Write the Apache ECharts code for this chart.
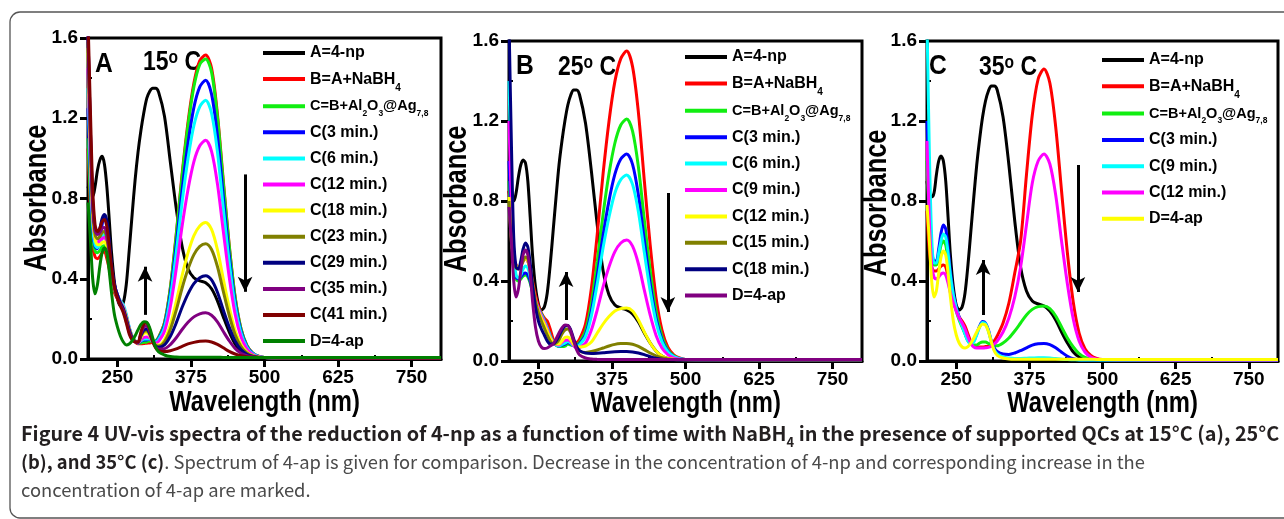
<!DOCTYPE html>
<html><head><meta charset="utf-8">
<script src="https://cdn.jsdelivr.net/npm/echarts@6/dist/echarts.min.js"></script>
<style>html,body{margin:0;padding:0;background:#fff}#c{width:1284px;height:519px}</style>
</head><body><div id="c"></div>
<script>
// Wavelength grid (nm)
const WL = [200,204,208,212,216,220,224,228,232,236,240,245,250,255,260,265,270,275,280,285,290,295,300,305,310,315,320,330,340,350,360,370,380,390,400,410,420,430,440,450,460,470,480,490,500,550,650,800];
const X_TICKS = [250,375,500,625,750];
const X_MINOR = [312.5,437.5,562.5,687.5];
const Y_MINOR = [0.2,0.6,1.0,1.4];

// ---------- Panel A (15 °C) ----------
const a_A   = [0.86,0.82,0.81,0.86,0.94,0.99,1.01,0.97,0.86,0.70,0.53, 0.38,0.30,0.265,0.28,0.37,0.54,0.72,0.89,1.03,1.14,1.23,1.30,1.335,1.35,1.35,1.33, 1.21,0.98,0.75,0.56,0.45,0.405,0.39,0.38,0.35,0.29,0.21,0.135,0.075,0.037,0.018,0.010,0.008,0.007, 0.006,0.005,0.005];
const a_B   = [1.05,0.75,0.56,0.51,0.50,0.51,0.53,0.535,0.50,0.45,0.39, 0.33,0.30,0.27,0.25,0.20,0.14,0.10,0.085,0.076,0.076,0.077,0.079,0.080,0.085,0.090,0.108, 0.181,0.357,0.624,0.924,1.18,1.375,1.487,1.515,1.45,1.22,0.888,0.57,0.312,0.152,0.068,0.030,0.014,0.008, 0.006,0.005,0.005];
const a_C   = [1.10,0.80,0.60,0.54,0.53,0.54,0.56,0.565,0.53,0.46,0.40, 0.34,0.31,0.28,0.255,0.21,0.15,0.105,0.088,0.078,0.080,0.083,0.085,0.090,0.087,0.090,0.107, 0.179,0.353,0.616,0.912,1.164,1.357,1.468,1.495,1.43,1.205,0.876,0.562,0.308,0.151,0.068,0.029,0.013,0.008, 0.006,0.005,0.005];
const a_C3  = [1.25,0.90,0.63,0.56,0.55,0.60,0.67,0.71,0.68,0.58,0.46, 0.37,0.32,0.28,0.26,0.215,0.155,0.11,0.09,0.08,0.088,0.094,0.095,0.098,0.088,0.087,0.102, 0.168,0.328,0.57,0.843,1.076,1.254,1.356,1.39,1.32,1.113,0.81,0.52,0.285,0.14,0.063,0.028,0.013,0.008, 0.006,0.005,0.005];
const a_C6  = [1.35,0.95,0.66,0.57,0.555,0.57,0.60,0.62,0.60,0.52,0.43, 0.36,0.32,0.29,0.27,0.225,0.16,0.115,0.092,0.082,0.091,0.099,0.10,0.10,0.088,0.085,0.097, 0.158,0.306,0.53,0.783,0.999,1.164,1.258,1.29,1.225,1.033,0.752,0.483,0.265,0.13,0.059,0.026,0.012,0.008, 0.006,0.005,0.005];
const a_C12 = [1.45,1.00,0.70,0.60,0.58,0.59,0.60,0.605,0.58,0.51,0.43, 0.36,0.32,0.285,0.26,0.215,0.155,0.112,0.09,0.08,0.0965,0.108,0.11,0.105,0.087,0.08,0.088, 0.138,0.262,0.45,0.663,0.845,0.984,1.063,1.09,1.035,0.873,0.636,0.409,0.225,0.111,0.051,0.023,0.011,0.007, 0.006,0.005,0.005];
const a_C18 = [1.55,1.05,0.72,0.60,0.57,0.57,0.58,0.585,0.56,0.50,0.42, 0.35,0.31,0.28,0.255,0.21,0.15,0.11,0.09,0.082,0.1075,0.1275,0.13,0.1155,0.086,0.07,0.07, 0.0965,0.171,0.286,0.417,0.529,0.615,0.663,0.68,0.646,0.545,0.398,0.257,0.143,0.072,0.035,0.017,0.009,0.007, 0.006,0.005,0.005];
const a_C23 = [1.58,1.10,0.75,0.62,0.60,0.61,0.63,0.635,0.60,0.53,0.44, 0.36,0.315,0.28,0.25,0.205,0.148,0.108,0.088,0.082,0.113,0.137,0.14,0.122,0.087,0.068,0.065, 0.086,0.148,0.244,0.354,0.448,0.52,0.561,0.575,0.546,0.461,0.337,0.218,0.122,0.062,0.03,0.015,0.009,0.007, 0.006,0.005,0.005];
const a_C29 = [1.62,1.15,0.78,0.65,0.63,0.65,0.70,0.72,0.69,0.59,0.47, 0.37,0.32,0.28,0.25,0.20,0.145,0.105,0.088,0.082,0.1185,0.1445,0.15,0.127,0.0875,0.064,0.058, 0.07,0.113,0.18,0.258,0.325,0.376,0.405,0.415,0.394,0.333,0.244,0.159,0.09,0.047,0.024,0.013,0.008,0.007, 0.006,0.005,0.005];
const a_C35 = [1.62,1.15,0.78,0.64,0.62,0.63,0.65,0.655,0.62,0.54,0.44, 0.35,0.305,0.27,0.24,0.19,0.135,0.10,0.086,0.082,0.127,0.16,0.165,0.137,0.089,0.06,0.05, 0.0515,0.072,0.106,0.147,0.183,0.21,0.225,0.23,0.218,0.185,0.137,0.091,0.053,0.029,0.017,0.011,0.008,0.007, 0.006,0.005,0.005];
const a_C41 = [1.70,1.25,0.85,0.67,0.635,0.65,0.685,0.695,0.66,0.57,0.46, 0.36,0.305,0.265,0.23,0.18,0.125,0.095,0.085,0.085,0.135,0.175,0.18,0.145,0.09,0.055,0.042, 0.037,0.041,0.05,0.063,0.075,0.083,0.088,0.09,0.085,0.073,0.056,0.038,0.025,0.016,0.011,0.009,0.008,0.007, 0.006,0.005,0.005];
const a_D   = [0.78,0.60,0.40,0.325,0.37,0.46,0.53,0.555,0.53,0.44,0.33, 0.22,0.16,0.115,0.085,0.07,0.075,0.09,0.115,0.145,0.172,0.186,0.183,0.155,0.105,0.06,0.035, 0.02,0.012,0.01,0.009,0.009,0.009,0.009,0.009,0.009,0.009,0.008,0.008,0.008,0.008,0.008,0.008,0.008,0.008, 0.008,0.008,0.008];

// ---------- Panel B (25 °C) ----------
const b_A   = [0.85,0.80,0.80,0.84,0.92,0.98,1.005,0.99,0.90,0.72,0.53, 0.37,0.285,0.255,0.27,0.34,0.48,0.65,0.82,0.98,1.10,1.20,1.28,1.33,1.355,1.355,1.33, 1.19,0.95,0.68,0.45,0.33,0.28,0.265,0.255,0.235,0.195,0.14,0.09,0.05,0.025,0.013,0.008,0.007,0.006, 0.005,0.005,0.005];
const b_B   = [0.85,0.65,0.52,0.48,0.47,0.48,0.50,0.51,0.50,0.46,0.40, 0.33,0.275,0.24,0.215,0.20,0.16,0.11,0.085,0.078,0.08,0.083,0.097,0.092,0.088,0.091,0.109, 0.184,0.363,0.634,0.939,1.199,1.398,1.512,1.55,1.472,1.241,0.902,0.579,0.317,0.155,0.069,0.031,0.015,0.008, 0.006,0.005,0.005];
const b_C   = [0.90,0.65,0.48,0.41,0.40,0.41,0.425,0.43,0.42,0.39,0.345, 0.30,0.265,0.235,0.205,0.17,0.13,0.097,0.08,0.072,0.072,0.074,0.085,0.08,0.077,0.081,0.094, 0.15,0.288,0.498,0.735,0.937,1.09,1.18,1.21,1.149,0.969,0.705,0.453,0.249,0.123,0.056,0.026,0.012,0.008, 0.006,0.005,0.005];
const b_C3  = [1.00,0.70,0.50,0.42,0.41,0.42,0.435,0.44,0.43,0.40,0.35, 0.30,0.26,0.23,0.20,0.165,0.125,0.095,0.08,0.074,0.08,0.084,0.093,0.086,0.077,0.076,0.086, 0.132,0.249,0.428,0.63,0.802,0.934,1.01,1.035,0.983,0.829,0.604,0.388,0.214,0.106,0.049,0.023,0.011,0.007, 0.006,0.005,0.005];
const b_C6  = [1.40,0.90,0.55,0.43,0.415,0.43,0.46,0.475,0.465,0.42,0.36, 0.30,0.26,0.23,0.20,0.165,0.125,0.095,0.08,0.075,0.083,0.089,0.097,0.089,0.077,0.073,0.081, 0.122,0.226,0.386,0.567,0.72,0.84,0.907,0.93,0.883,0.745,0.543,0.35,0.193,0.096,0.045,0.022,0.011,0.007, 0.006,0.005,0.005];
const b_C9  = [1.20,0.80,0.55,0.47,0.465,0.48,0.50,0.51,0.50,0.45,0.38, 0.31,0.26,0.225,0.195,0.16,0.12,0.095,0.083,0.08,0.094,0.103,0.105,0.097,0.076,0.065,0.067, 0.089,0.155,0.256,0.372,0.471,0.547,0.59,0.605,0.574,0.485,0.354,0.229,0.128,0.065,0.032,0.016,0.009,0.007, 0.006,0.005,0.005];
const b_C12 = [0.82,0.62,0.51,0.475,0.47,0.48,0.50,0.51,0.50,0.45,0.38, 0.30,0.25,0.215,0.185,0.15,0.115,0.095,0.085,0.085,0.10,0.117,0.12,0.105,0.082,0.072,0.07, 0.075,0.095,0.14,0.185,0.222,0.25,0.262,0.265,0.25,0.205,0.145,0.09,0.05,0.025,0.013,0.009,0.007,0.006, 0.006,0.005,0.005];
const b_C15 = [0.80,0.60,0.50,0.465,0.46,0.47,0.50,0.52,0.51,0.46,0.39, 0.30,0.24,0.20,0.165,0.13,0.10,0.085,0.09,0.105,0.135,0.155,0.16,0.14,0.10,0.068,0.05, 0.043,0.048,0.055,0.065,0.075,0.083,0.087,0.088,0.084,0.073,0.057,0.04,0.026,0.016,0.01,0.007,0.006,0.006, 0.005,0.005,0.005];
const b_C18 = [1.70,1.10,0.62,0.47,0.46,0.50,0.56,0.59,0.57,0.49,0.38, 0.27,0.20,0.16,0.13,0.10,0.085,0.085,0.10,0.125,0.155,0.175,0.178,0.155,0.11,0.072,0.052, 0.04,0.038,0.039,0.041,0.044,0.046,0.047,0.047,0.045,0.04,0.032,0.022,0.014,0.009,0.007,0.006,0.005,0.005, 0.005,0.005,0.005];
const b_D   = [0.77,0.60,0.40,0.32,0.36,0.45,0.53,0.555,0.53,0.44,0.30, 0.17,0.10,0.07,0.062,0.065,0.075,0.085,0.11,0.14,0.165,0.18,0.178,0.15,0.10,0.055,0.03, 0.015,0.01,0.008,0.007,0.007,0.007,0.007,0.007,0.007,0.007,0.007,0.007,0.007,0.007,0.007,0.007,0.007,0.007, 0.007,0.007,0.007];

// ---------- Panel C (35 °C) ----------
const c_A   = [0.90,0.83,0.82,0.84,0.93,1.00,1.025,1.00,0.90,0.72,0.53, 0.37,0.28,0.255,0.27,0.34,0.48,0.65,0.82,0.98,1.11,1.22,1.30,1.35,1.375,1.375,1.355, 1.22,0.98,0.70,0.47,0.35,0.30,0.285,0.275,0.25,0.205,0.145,0.09,0.045,0.02,0.01,0.007,0.006,0.006, 0.005,0.005,0.005];
const c_B   = [0.75,0.55,0.47,0.45,0.45,0.46,0.475,0.48,0.47,0.42,0.36, 0.30,0.255,0.22,0.20,0.175,0.135,0.095,0.075,0.07,0.07,0.07,0.072,0.075,0.085,0.10,0.125, 0.19,0.29,0.44,0.60,0.93,1.23,1.41,1.46,1.39,1.17,0.85,0.54,0.295,0.14,0.062,0.028,0.013,0.008, 0.006,0.005,0.005];
const c_C   = [1.00,0.70,0.52,0.48,0.48,0.52,0.58,0.60,0.58,0.50,0.40, 0.31,0.25,0.205,0.17,0.135,0.10,0.085,0.08,0.08,0.09,0.095,0.095,0.088,0.08,0.076,0.076, 0.09,0.115,0.15,0.19,0.23,0.258,0.272,0.275,0.262,0.225,0.17,0.115,0.07,0.037,0.018,0.01,0.007,0.006, 0.005,0.005,0.005];
const c_C3  = [1.20,0.80,0.56,0.50,0.50,0.56,0.64,0.68,0.66,0.57,0.45, 0.34,0.27,0.22,0.18,0.14,0.105,0.09,0.10,0.135,0.175,0.197,0.19,0.155,0.10,0.065,0.048, 0.035,0.033,0.04,0.052,0.066,0.079,0.086,0.088,0.082,0.066,0.044,0.024,0.011,0.006,0.005,0.005,0.005,0.005, 0.005,0.005,0.005];
const c_C9  = [1.70,1.05,0.62,0.49,0.49,0.54,0.60,0.635,0.62,0.54,0.43, 0.33,0.265,0.215,0.175,0.135,0.10,0.085,0.095,0.13,0.17,0.193,0.187,0.15,0.095,0.055,0.035, 0.02,0.015,0.013,0.013,0.014,0.015,0.016,0.016,0.015,0.012,0.009,0.007,0.006,0.005,0.005,0.005,0.005,0.005, 0.005,0.005,0.005];
const c_C12 = [1.10,0.70,0.48,0.42,0.41,0.42,0.435,0.44,0.43,0.39,0.34, 0.29,0.25,0.215,0.19,0.16,0.12,0.088,0.07,0.065,0.065,0.065,0.066,0.068,0.074,0.085,0.10, 0.145,0.215,0.32,0.47,0.68,0.89,1.00,1.035,0.985,0.83,0.60,0.385,0.21,0.10,0.045,0.02,0.01,0.007, 0.006,0.005,0.005];
const c_D   = [0.78,0.60,0.40,0.32,0.35,0.44,0.52,0.55,0.53,0.44,0.32, 0.20,0.13,0.09,0.07,0.065,0.072,0.09,0.115,0.145,0.17,0.185,0.18,0.148,0.095,0.05,0.028, 0.015,0.01,0.009,0.009,0.009,0.009,0.009,0.009,0.009,0.009,0.009,0.009,0.009,0.009,0.009,0.009,0.008,0.008, 0.008,0.008,0.008];

// legend labels
const LBL_NP = 'A=4-np';
const LBL_B  = 'B=A+NaBH{s|4}';
const LBL_C  = '{m|C=B+Al}{t|2}{m|O}{t|3}{m|@Ag}{t|7,8}';
const LBL_D  = 'D=4-ap';
const labelsA = [LBL_NP, LBL_B, LBL_C, 'C(3 min.)','C(6 min.)','C(12 min.)','C(18 min.)','C(23 min.)','C(29 min.)','C(35 min.)','C(41 min.)', LBL_D];
const labelsB = [LBL_NP, LBL_B, LBL_C, 'C(3 min.)','C(6 min.)','C(9 min.)','C(12 min.)','C(15 min.)','C(18 min.)', LBL_D];
const labelsC = [LBL_NP, LBL_B, LBL_C, 'C(3 min.)','C(9 min.)','C(12 min.)', LBL_D];

const K='#000000',R='#ff0000',G='#11ee11',BL='#0000ff',CY='#00ffff',MG='#ff00ff',YE='#ffff00',OL='#808000',NV='#000080',PU='#800080',DR='#800000',DG='#008000';
const colorsA = [K,R,G,BL,CY,MG,YE,OL,NV,PU,DR,DG];
const colorsB = [K,R,G,BL,CY,MG,YE,OL,NV,PU];
const colorsC = [K,R,G,BL,CY,MG,YE];

const seriesA = [a_A,a_B,a_C,a_C3,a_C6,a_C12,a_C18,a_C23,a_C29,a_C35,a_C41,a_D];
const seriesB = [b_A,b_B,b_C,b_C3,b_C6,b_C9,b_C12,b_C15,b_C18,b_D];
const seriesC = [c_A,c_B,c_C,c_C3,c_C9,c_C12,c_D];

// caption text
const CAP1 = 'Figure 4 UV-vis spectra of the reduction of 4-np as a function of time with NaBH{s|4} in the presence of supported QCs at 15°C (a), 25°C';
const CAP2_B = '(b), and 35°C (c)';
const CAP2_R = '. Spectrum of 4-ap is given for comparison. Decrease in the concentration of 4-np and corresponding increase in the';
const CAP3 = 'concentration of 4-ap are marked.';

const FONT = "'Liberation Sans',Arial,sans-serif";
const CAPFONT = "'Noto Sans CJK SC','Noto Sans',sans-serif";
const SQ = 0.82; // horizontal squeeze for condensed-looking titles

const panels = [
  {grid:{left:88,top:38,width:353,height:321}, legend:{left:263,top:40,gap:0.1}, labels:labelsA, colors:colorsA, data:seriesA,
   tag:'A', temp:'15', tagPos:[95,50], tempPos:[143,48], yName:[37,198], xName:[264.5,403],
   up:[[297,0.22],[297,0.46]], down:[[467,0.92],[467,0.335]]},
  {grid:{left:509,top:41,width:353,height:320}, legend:{left:685,top:44,gap:0.4}, labels:labelsB, colors:colorsB, data:seriesB,
   tag:'B', temp:'25', tagPos:[516,52], tempPos:[558,53], yName:[457,199], xName:[685.5,404],
   up:[[297,0.205],[297,0.445]], down:[[470,0.84],[470,0.245]]},
  {grid:{left:927,top:41,width:351,height:320}, legend:{left:1102,top:47,gap:0.3}, labels:labelsC, colors:colorsC, data:seriesC,
   tag:'C', temp:'35', tagPos:[929,52], tempPos:[979,53], yName:[877,203], xName:[1102.5,404],
   up:[[296,0.23],[296,0.505]], down:[[458,0.98],[458,0.345]]}
];

const option = {animation:false, backgroundColor:'#fff', grid:[], xAxis:[], yAxis:[], series:[], legend:[], graphic:[]};
const nameMap = {};
const txt = (size) => ({fontFamily:FONT, fontWeight:'bold', fontSize:size, color:'#000'});

panels.forEach((p, i) => {
  option.grid.push(Object.assign({show:true, borderColor:'#000', borderWidth:3, backgroundColor:'transparent'}, p.grid));
  option.xAxis.push({
    gridIndex:i, type:'value', min:200, max:800,
    axisLine:{show:true, lineStyle:{color:'#000', width:3}},
    axisTick:{show:true, inside:false, length:8, customValues:X_TICKS, lineStyle:{color:'#000', width:3}},
    axisLabel:Object.assign({customValues:X_TICKS, margin:9}, txt(19)),
    splitLine:{show:false}
  });
  option.xAxis.push({
    gridIndex:i, type:'value', min:200, max:800, position:'bottom',
    axisLine:{show:false}, axisLabel:{show:false}, splitLine:{show:false},
    axisTick:{show:true, inside:true, length:4, customValues:X_MINOR, lineStyle:{color:'#000', width:2}}
  });
  option.yAxis.push({
    gridIndex:i, type:'value', min:0, max:1.6, interval:0.4,
    axisLine:{show:true, lineStyle:{color:'#000', width:3}},
    axisTick:{show:true, inside:false, length:8, lineStyle:{color:'#000', width:3}},
    axisLabel:Object.assign({margin:10, formatter:v => v.toFixed(1)}, txt(19)),
    splitLine:{show:false}
  });
  option.yAxis.push({
    gridIndex:i, type:'value', min:0, max:1.6, position:'left',
    axisLine:{show:false}, axisLabel:{show:false}, splitLine:{show:false},
    axisTick:{show:true, inside:true, length:4, customValues:Y_MINOR, lineStyle:{color:'#000', width:2}}
  });
  const names = [];
  p.data.forEach((arr, j) => {
    const nm = 'p' + i + 's' + j;
    names.push(nm);
    nameMap[nm] = p.labels[j];
    const s = {
      name:nm, type:'line', xAxisIndex:2*i, yAxisIndex:2*i,
      data: WL.map((w, k) => [w, arr[k]]),
      showSymbol:false, symbol:'none', smooth:0.3, clip:true,
      lineStyle:{color:p.colors[j], width:3}, itemStyle:{color:p.colors[j]},
      emphasis:{disabled:true}, silent:true
    };
    if (j === 0) {
      s.markLine = {
        silent:true, symbol:['none','arrow'], symbolSize:[11,15], label:{show:false},
        lineStyle:{color:'#000', width:3, type:'solid'}, emphasis:{disabled:true},
        data:[[{coord:p.up[0]},{coord:p.up[1]}],[{coord:p.down[0]},{coord:p.down[1]}]]
      };
    }
    option.series.push(s);
  });
  option.legend.push({
    data:names, left:p.legend.left, top:p.legend.top, orient:'vertical', icon:'rect',
    itemWidth:42, itemHeight:4, itemGap:p.legend.gap, selectedMode:false, padding:0,
    formatter: n => nameMap[n],
    textStyle:{fontFamily:FONT, fontWeight:'bold', fontSize:16, color:'#000', lineHeight:26,
      rich:{
        s:{fontFamily:FONT, fontWeight:'bold', fontSize:10, color:'#000', verticalAlign:'top', padding:[17,0,0,0]},
        m:{fontFamily:FONT, fontWeight:'bold', fontSize:14.5, color:'#000'},
        t:{fontFamily:FONT, fontWeight:'bold', fontSize:8.5, color:'#000', verticalAlign:'top', padding:[16,0,0,0]}
      }}
  });
  // axis titles (condensed look)
  option.graphic.push({type:'text', x:p.xName[0], y:p.xName[1], scaleX:SQ, silent:true,
    style:{text:'Wavelength (nm)', fontFamily:FONT, fontWeight:'bold', fontSize:29, fill:'#000', align:'center', verticalAlign:'middle'}});
  option.graphic.push({type:'text', x:p.yName[0], y:p.yName[1], rotation:Math.PI/2, scaleX:SQ, silent:true,
    style:{text:'Absorbance', fontFamily:FONT, fontWeight:'bold', fontSize:31, fill:'#000', align:'center', verticalAlign:'middle'}});
  // panel tag + temperature
  option.graphic.push({type:'text', x:p.tagPos[0], y:p.tagPos[1], scaleX:0.88, silent:true,
    style:{text:p.tag, fontFamily:FONT, fontWeight:'bold', fontSize:28, fill:'#000'}});
  option.graphic.push({type:'text', x:p.tempPos[0], y:p.tempPos[1], scaleX:SQ, silent:true,
    style:{text:'{n|' + p.temp + '}{o|o}{n| C}', fill:'#000',
      rich:{n:{fontFamily:FONT, fontWeight:'bold', fontSize:28, fill:'#000'},
            o:{fontFamily:FONT, fontWeight:'bold', fontSize:19, fill:'#000', verticalAlign:'top'}}}});
});

// caption font sizes fitted to the reference line widths
const mctx = document.createElement('canvas').getContext('2d');
const mw = (t, wt, sz) => { mctx.font = wt + ' ' + sz + 'px ' + CAPFONT; return mctx.measureText(t).width; };
const plain1 = CAP1.replace('{s|4}', '');
const s1 = 20 * 1259 / (mw(plain1, 'bold', 20) + mw('4', 'bold', 13));
const s2 = 20 * 1125 / (mw(CAP2_B, 'bold', 20) + mw(CAP2_R, 'normal', 20));
const capBold = {fontFamily:CAPFONT, fontWeight:'bold', fontSize:s1, fill:'#231f20'};
const capBold2 = {fontFamily:CAPFONT, fontWeight:'bold', fontSize:s2, fill:'#231f20'};
const capReg  = {fontFamily:CAPFONT, fontWeight:'normal', fontSize:s2, fill:'#4a4a4a'};
const capSub  = {fontFamily:CAPFONT, fontWeight:'bold', fontSize:s1*0.65, fill:'#231f20', verticalAlign:'top', padding:[s1*0.62,0,0,0]};
const capY = (base, sz) => base - 10 - 0.436 * sz;

// outer frame + caption
option.graphic.push({type:'rect', silent:true, shape:{x:10, y:12, width:1290, height:506, r:10},
  style:{fill:'none', stroke:'#555', lineWidth:1.3}});
option.graphic.push({type:'text', x:21, y:capY(442, s1), silent:true,
  style:Object.assign({text:CAP1, rich:{s:capSub}, lineHeight:20}, capBold)});
option.graphic.push({type:'text', x:21, y:capY(470, s2), silent:true,
  style:Object.assign({text:'{b|' + CAP2_B + '}' + CAP2_R, rich:{b:capBold2}, lineHeight:20}, capReg)});
option.graphic.push({type:'text', x:21, y:capY(498, s2), silent:true,
  style:Object.assign({text:CAP3, lineHeight:20}, capReg)});

const chart = echarts.init(document.getElementById('c'), null, {renderer:'canvas'});
chart.setOption(option);
</script></body></html>
